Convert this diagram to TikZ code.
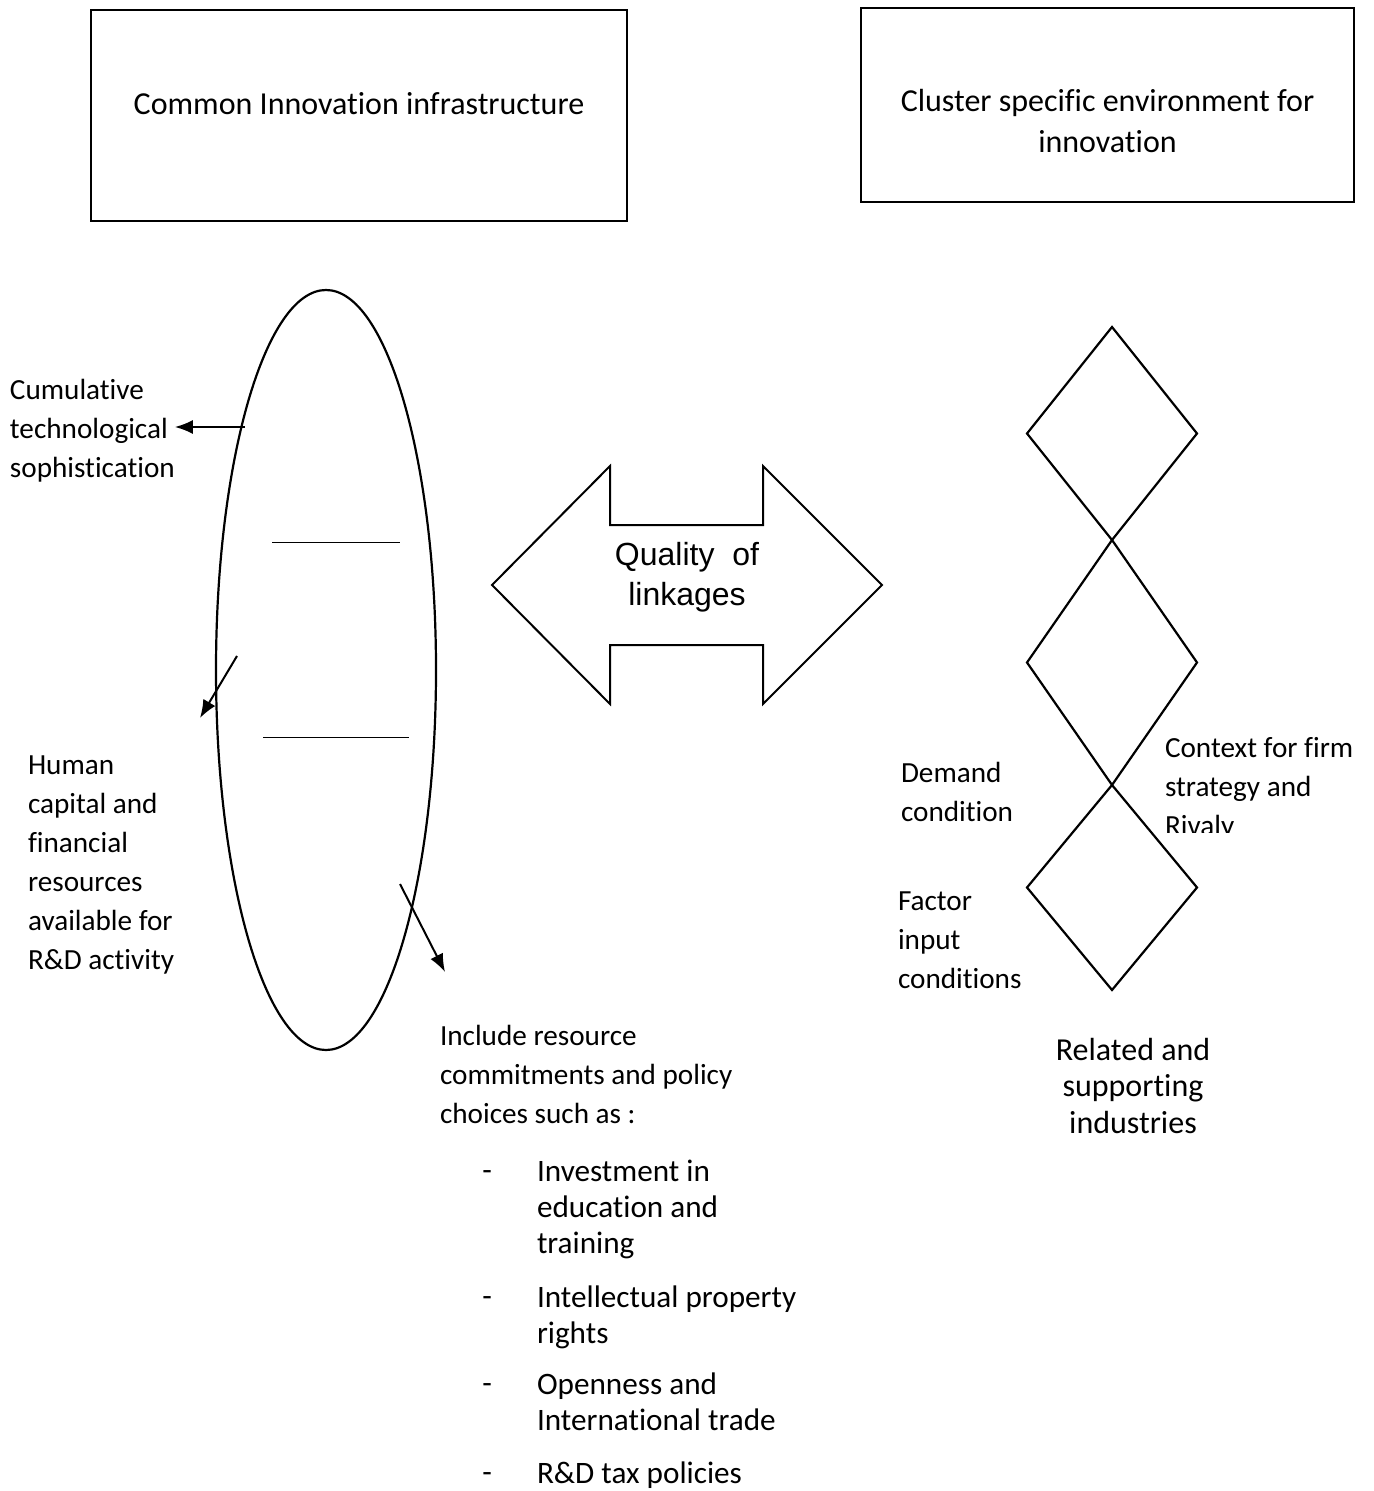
\documentclass[tikz,border=0pt]{standalone}
\usepackage{fontspec}
\setmainfont{Carlito}[Ligatures=NoCommon]
\newfontfamily\arrowfont{Liberation Sans}
\usetikzlibrary{arrows.meta,shapes.geometric,positioning}
\tikzset{
  basic/.style  = {inner sep=0pt, outer sep=0pt, align=left, anchor=base west},
  plain/.style  = {basic, font=\fontsize{14.6}{19.5}\selectfont},
  policy/.style = {basic, font=\fontsize{15.6}{18}\selectfont},
  title/.style  = {inner sep=0pt, align=center, anchor=base,
                   font=\fontsize{16}{20.5}\selectfont},
  frame/.style  = {draw, line width=0.75pt, rectangle, inner sep=0pt},
  factor/.style = {draw, diamond, line width=1.1pt, minimum width=85pt,
                   inner sep=0pt, outer sep=0pt},
  link/.style   = {-{Latex[length=9pt,width=7pt]}, line width=1pt}
}

\begin{document}
\begin{tikzpicture}[x=0.5pt, y=-0.5pt]
\useasboundingbox (0,0) rectangle (1373,1491);

% the two headings (base = last line)
\node[frame, minimum width=268pt, minimum height=105.5pt] (cii) at (359,115.5) {};
\node[title] (ciit) at (359,115) {Common Innovation infrastructure};
\node[frame, minimum width=246.5pt, minimum height=97pt] (csi) at (1107.5,105) {};
\node[title] (csit) at (1107.5,153) {Cluster specific environment for\\innovation};

% common innovation infrastructure
\node[draw, ellipse, line width=1.1pt, minimum width=110pt, minimum height=380pt,
      inner sep=0pt] (ell) at (326,670) {};
\draw[line width=0.5pt] (272,542) -- (400,542);
\draw[line width=0.5pt] (263,737) -- (409,737);

\node[plain] (cumul) at (10,478) {Cumulative\\technological\\sophistication};
\node[plain] (human) at (28,969) {Human\\capital and\\financial\\resources\\available for\\R\&D activity};
\node[plain] (incl)  at (440,1123) {Include resource\\commitments and policy\\choices such as :};

\coordinate (a1)  at (245,427);
\coordinate (a2)  at (237,656);
\coordinate (a2e) at (200,718);
\coordinate (a3)  at (400,884);
\coordinate (a3e) at (445,972);
\draw[link] (a1) -- (a1 -| cumul.east);
\draw[link] (a2) -- (a2e);
\draw[link] (a3) -- (a3e);

\node[policy] (inv) at (537,1253) {Investment in\\education and\\training};
\node[policy] (ipr) at (537,1343) {Intellectual property\\rights};
\node[policy] (opn) at (537,1430) {Openness and\\International trade};
\node[policy] (rdt) at (537,1483) {R\&D tax policies};
\foreach \n in {inv,ipr,opn,rdt}
  \node[policy, anchor=base east] (dash-\n) at ([xshift=-22.5pt, yshift=-10.5pt]\n.north west) {-};

% quality of linkages
\coordinate (qol) at (687,585);
\draw[line width=1pt, line join=miter, shift={(qol)}]
  (-195,0) -- (-77,-119) -- (-77,-60) -- (76,-60) -- (76,-119) -- (195,0)
  -- (76,119) -- (76,60) -- (-77,60) -- (-77,119) -- cycle;
\node[title, font=\arrowfont\fontsize{16}{20}\selectfont] (qolt) at (687,605) {Quality~~of\\linkages};

% cluster specific environment
\node[factor, minimum height=106.5pt] (d1) at (1112,433.5) {};
\node[factor, minimum height=122.5pt, below=0pt of d1] (d2) {};
\node[factor, minimum height=102.5pt, below=0pt of d2] (d3) {};

\node[plain] (demand) at (901,821) {Demand\\condition};
\begin{scope}
  \clip (1150,700) rectangle (1373,832);
  \node[plain] (context) at (1165,835) {Context for firm\\strategy and\\Rivaly};
\end{scope}
\node[plain] (fic) at (898,988) {Factor\\input\\conditions};
\node[title, font=\fontsize{16}{18.25}\selectfont] (related) at (1133,1133) {Related and\\supporting\\industries};

\end{tikzpicture}
\end{document}
